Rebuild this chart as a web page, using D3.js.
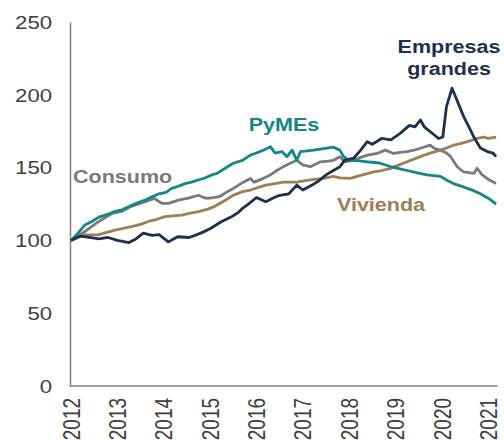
<!DOCTYPE html>
<html>
<head>
<meta charset="utf-8">
<script src="https://cdn.jsdelivr.net/npm/d3@7"></script>
<style>
  body { margin: 0; background: #fff; }
  text { font-family: "Liberation Sans", Arial, sans-serif; }
</style>
</head>
<body>
<div id="chart"></div>
<script>
// series: [year, index 2012=100]
const empresas = [[2012.0,100],[2012.2,103],[2012.4,102],[2012.6,101],[2012.8,102],[2013.0,100],[2013.25,98.5],[2013.4,101],[2013.56,105],[2013.75,103.5],[2013.9,104],[2014.1,99],[2014.3,102.5],[2014.55,102],[2014.8,105],[2015.0,108],[2015.25,113],[2015.45,116],[2015.6,119],[2015.7,122],[2015.87,126],[2016.0,129.5],[2016.2,126.6],[2016.35,129],[2016.5,131],[2016.7,132],[2016.87,138],[2017.0,134.6],[2017.2,138],[2017.35,141],[2017.5,145],[2017.66,148],[2017.8,150.6],[2017.9,155],[2018.1,156.6],[2018.25,162],[2018.39,167.8],[2018.5,166],[2018.7,170],[2018.9,169],[2019.1,173.5],[2019.3,179],[2019.42,178],[2019.54,182.7],[2019.62,178],[2019.75,174.6],[2019.93,170],[2020.02,171],[2020.1,192],[2020.22,204.5],[2020.33,196],[2020.47,185],[2020.6,177],[2020.69,171],[2020.83,163.5],[2020.98,161],[2021.1,160],[2021.17,157.5]];

const pymes = [[2012.0,100],[2012.15,105],[2012.3,110.6],[2012.45,113],[2012.6,116],[2012.8,118],[2012.95,120],[2013.1,121],[2013.3,124],[2013.45,126],[2013.6,127.7],[2013.75,130],[2013.9,132],[2014.05,133],[2014.17,135.7],[2014.3,137],[2014.46,139],[2014.6,140],[2014.74,141.5],[2014.9,143],[2015.04,145],[2015.15,146],[2015.3,149],[2015.5,153],[2015.7,155],[2015.87,158.6],[2016.0,160],[2016.15,162],[2016.3,164.4],[2016.4,160],[2016.55,161],[2016.66,157.5],[2016.77,162],[2016.87,155],[2016.95,161],[2017.1,161.5],[2017.23,162],[2017.45,163],[2017.66,164],[2017.8,162],[2017.88,157.5],[2018.0,155],[2018.1,155],[2018.25,154.5],[2018.4,154],[2018.55,153.5],[2018.67,153],[2018.9,150.6],[2019.05,149.5],[2019.25,148],[2019.45,146.5],[2019.68,145],[2019.97,144],[2020.1,141.5],[2020.25,139],[2020.4,137.5],[2020.55,135.7],[2020.7,134],[2020.83,132],[2021.0,129],[2021.17,125]];

const consumo = [[2012.0,100],[2012.15,103],[2012.34,107],[2012.6,113],[2012.88,118.5],[2013.1,120],[2013.3,123.4],[2013.6,126.6],[2013.8,128.8],[2013.96,125.4],[2014.1,125.4],[2014.32,127.7],[2014.53,129],[2014.75,131],[2014.9,129],[2015.0,129],[2015.2,130],[2015.35,133],[2015.5,135.7],[2015.72,140],[2015.87,142.6],[2015.95,140],[2016.15,142.6],[2016.3,145],[2016.44,148],[2016.6,151],[2016.73,153],[2016.87,155],[2017.0,151.8],[2017.16,150.6],[2017.38,154],[2017.55,154.5],[2017.66,155],[2017.8,157.5],[2017.9,154],[2018.1,155],[2018.25,157],[2018.4,158.6],[2018.6,159.7],[2018.78,162],[2018.96,159.7],[2019.1,160.5],[2019.25,161],[2019.4,162],[2019.54,163.3],[2019.75,165.5],[2019.83,163.3],[2019.97,162],[2020.1,160],[2020.19,157.5],[2020.33,150.6],[2020.47,147],[2020.69,146],[2020.76,149.5],[2020.87,145],[2021.0,142],[2021.17,139]];

const vivienda = [[2012.0,100],[2012.15,102],[2012.3,103.7],[2012.6,104],[2012.95,107],[2013.3,109.4],[2013.5,111],[2013.67,113],[2013.85,114.5],[2014.03,116.3],[2014.2,116.8],[2014.39,117.4],[2014.55,118.5],[2014.75,119.7],[2014.95,121.5],[2015.1,123.4],[2015.3,127],[2015.5,131],[2015.7,133.5],[2015.87,134.6],[2016.05,136.5],[2016.2,138],[2016.4,139],[2016.58,140],[2016.87,140],[2017.16,141.5],[2017.45,142.6],[2017.66,144],[2017.8,143],[2018.03,142.6],[2018.17,144],[2018.35,145.5],[2018.53,147],[2018.7,148],[2018.9,149.5],[2019.05,151.5],[2019.25,154],[2019.45,156.5],[2019.62,158.6],[2019.8,160.5],[2019.97,162],[2020.1,163.5],[2020.26,165.5],[2020.4,166.5],[2020.55,167.8],[2020.76,170],[2020.91,171],[2021.0,170],[2021.17,171]];

const years = [2012, 2013, 2014, 2015, 2016, 2017, 2018, 2019, 2020, 2021];
const yTicks = [0, 50, 100, 150, 200, 250];

const width = 504, height = 440;
const sx = 1.23; // text in the picture is stretched sideways

const svg = d3.select("#chart").append("svg")
    .attr("width", width)
    .attr("height", height);

const x = d3.scaleLinear().domain([2012, 2021.2]).range([71, 497.5]);
const y = d3.scaleLinear().domain([0, 250]).range([386, 22]);

// y axis
const yAxis = svg.append("g")
    .attr("transform", "translate(70,0)")
    .call(d3.axisLeft(y).tickValues(yTicks).tickSize(0).tickSizeOuter(0));
yAxis.select(".domain").attr("stroke", "#7f7f7f").attr("stroke-width", 1.5);
yAxis.selectAll(".tick text")
    .attr("x", null).attr("dy", "0.35em")
    .attr("transform", `translate(-18,0) scale(${sx},1)`)
    .style("font-size", "18px")
    .attr("fill", "#404040");

// x axis
const xAxis = svg.append("g")
    .attr("transform", "translate(0,386)")
    .call(d3.axisBottom(x).tickValues(years).tickSize(0).tickSizeOuter(0).tickFormat(d3.format("d")));
xAxis.select(".domain").attr("stroke", "#7f7f7f").attr("stroke-width", 1.5)
    .attr("d", `M70,0H${x(2021.2)}`);
xAxis.selectAll(".tick text")
    .attr("y", null).attr("dy", "0.35em")
    .attr("text-anchor", "end")
    .attr("transform", `translate(0,12) scale(${sx},1) rotate(-90)`)
    .style("font-size", "19px")
    .attr("fill", "#404040");

const line = d3.line()
    .x(d => x(d[0]))
    .y(d => y(d[1]));

const series = [
    {data: vivienda, color: "#9c8055"},
    {data: consumo, color: "#7a7a7a"},
    {data: pymes, color: "#138688"},
    {data: empresas, color: "#1f2f4f"}
];

svg.selectAll("path.serie").data(series)
    .enter().append("path")
    .attr("class", "serie")
    .attr("d", d => line(d.data))
    .attr("fill", "none")
    .attr("stroke", d => d.color)
    .attr("stroke-width", 2.8)
    .attr("stroke-linejoin", "round");

// etiquetas de series
const labels = [
    {text: "Empresas", x: 449, y: 53, anchor: "middle", color: "#1f2f4f"},
    {text: "grandes", x: 449, y: 75, anchor: "middle", color: "#1f2f4f"},
    {text: "PyMEs", x: 284, y: 131, anchor: "middle", color: "#138688"},
    {text: "Consumo", x: 73, y: 183, anchor: "start", color: "#7a7a7a"},
    {text: "Vivienda", x: 381, y: 211, anchor: "middle", color: "#9c8055"}
];

svg.selectAll("text.lbl").data(labels)
    .enter().append("text")
    .attr("class", "lbl")
    .attr("transform", d => `translate(${d.x},${d.y}) scale(${sx},1)`)
    .attr("text-anchor", d => d.anchor)
    .style("font-size", "17.5px")
    .style("font-weight", "bold")
    .attr("fill", d => d.color)
    .text(d => d.text);
</script>
</body>
</html>
